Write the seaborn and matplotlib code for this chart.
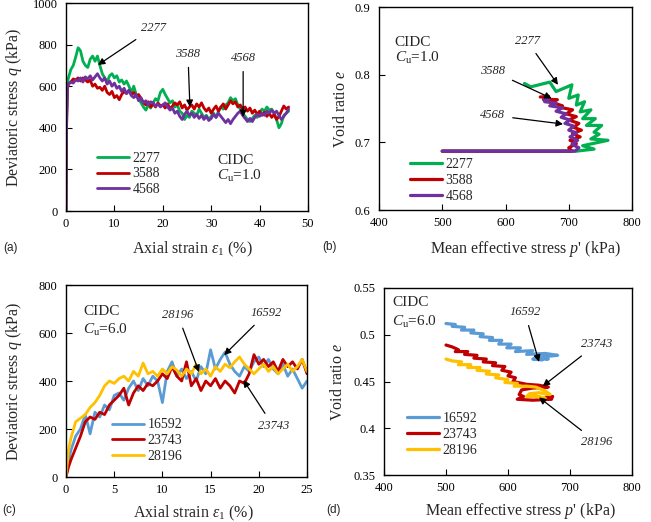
import numpy as np
import pandas as pd
import matplotlib
matplotlib.use("Agg")
from matplotlib import pyplot as plt
import seaborn as sns

# ---------------- data ---------------- #

# (a) CIDC, Cu = 1.0 : deviatoric stress vs axial strain
strain_a = [0, 0.1, 0.3, 0.5, 1.0, 1.5, 2.0, 2.5, 3.0, 3.5, 4.0, 4.5, 5.0, 5.5, 6.0, 6.5,
            7.0, 7.5, 8.0, 8.5, 9.0, 9.5, 10.0, 10.5, 11.0, 11.5, 12.0, 12.5, 13.0, 13.5,
            14.0, 14.5, 15.0, 15.5, 16.0, 16.5, 17.0, 17.5, 18.0, 18.5, 19.0, 19.5, 20.0,
            20.5, 21.0, 21.5, 22.0, 22.5, 23.0, 23.5, 24.0, 24.5, 25.0, 25.5, 26.0, 26.5,
            27.0, 27.5, 28.0, 28.5, 29.0, 29.5, 30.0, 30.5, 31.0, 31.5, 32.0, 32.5, 33.0,
            33.5, 34.0, 34.5, 35.0, 35.5, 36.0, 36.5, 37.0, 37.5, 38.0, 38.5, 39.0, 39.5,
            40.0, 40.5, 41.0, 41.5, 42.0, 42.5, 43.0, 43.5, 44.0, 44.5, 45.0, 45.5, 46.0]
q_2277 = [0, 450, 610, 640, 680, 700, 740, 785, 770, 720, 700, 690, 730, 745, 720, 745,
          700, 660, 640, 620, 650, 660, 640, 650, 620, 630, 610, 625, 600, 570,
          600, 560, 540, 520, 500, 485, 510, 495, 520, 540, 530, 570, 585,
          560, 540, 520, 530, 500, 510, 480, 470, 440, 460, 450, 480, 470,
          460, 490, 470, 450, 460, 440, 455, 470, 450, 480, 500, 490, 510,
          520, 545, 530, 540, 510, 490, 470, 455, 440, 430, 445, 460, 450,
          470, 490, 480, 500, 485, 490, 470, 440, 400, 420, 460, 470, 480]
q_3588 = [0, 400, 590, 610, 620, 635, 630, 640, 625, 640, 630, 620, 630, 600, 610, 590,
          595, 580, 600, 570, 560, 575, 545, 555, 535, 560, 575, 565, 580, 560,
          570, 550, 560, 540, 520, 510, 525, 500, 515, 500, 520, 505, 510,
          495, 515, 490, 505, 520, 510, 525, 495, 510, 485, 500, 510, 490,
          515, 500, 520, 495, 480, 495, 470, 490, 505, 480, 500, 515, 490,
          510, 530, 515, 525, 500, 510, 490, 500, 480, 495, 470, 485, 465,
          480, 460, 475, 455, 470, 450, 465, 440, 455, 480, 505, 490, 500]
q_4568 = [0, 380, 590, 610, 620, 615, 630, 625, 640, 620, 645, 635, 650, 630, 645, 660,
          640, 625, 640, 610, 625, 600, 615, 590, 600, 575, 590, 565, 580, 555,
          545, 560, 530, 545, 520, 530, 510, 525, 520, 505, 515, 500, 510,
          520, 500, 485, 495, 470, 480, 455, 440, 465, 480, 460, 470, 450,
          465, 445, 460, 440, 455, 435, 445, 465, 450, 470, 455, 440, 425,
          440, 420, 440, 455, 470, 480, 460, 445, 430, 445, 430, 450, 465,
          455, 470, 460, 480, 470, 485, 470, 480, 460, 440, 455, 470, 490]

# (b) CIDC, Cu = 1.0 : void ratio vs mean effective stress (paths)
p_2277 = [500, 712, 740, 722, 762, 735, 748, 740, 752, 728, 742, 722, 735, 718, 725,
          712, 715, 700, 705, 680, 670, 640, 630]
e_2277 = [0.687, 0.687, 0.690, 0.695, 0.703, 0.705, 0.712, 0.715, 0.725, 0.725, 0.735,
          0.735, 0.748, 0.745, 0.760, 0.755, 0.770, 0.765, 0.785, 0.775, 0.789, 0.782, 0.787]
p_3588 = [500, 705, 700, 712, 702, 718, 706, 720, 708, 716, 700, 712, 696, 706, 685,
          690, 670, 682, 660, 668, 655]
e_3588 = [0.687, 0.687, 0.692, 0.698, 0.703, 0.708, 0.713, 0.718, 0.722, 0.728, 0.733,
          0.738, 0.742, 0.748, 0.752, 0.754, 0.760, 0.763, 0.764, 0.768, 0.767]
p_4568 = [500, 710, 716, 705, 714, 702, 712, 700, 708, 694, 702, 688, 696, 680, 690,
          670, 680, 662, 668, 660]
e_4568 = [0.687, 0.687, 0.692, 0.697, 0.703, 0.708, 0.714, 0.718, 0.724, 0.728, 0.733,
          0.737, 0.742, 0.746, 0.751, 0.754, 0.758, 0.760, 0.764, 0.763]

# (c) CIDC, Cu = 6.0 : deviatoric stress vs axial strain
strain_c = [0, 0.25, 0.5, 1.0, 1.5, 2.0, 2.5, 3.0, 3.5, 4.0, 4.5, 5.0, 5.5, 6.0, 6.5,
            7.0, 7.5, 8.0, 8.5, 9.0, 9.5, 10.0, 10.5, 11.0, 11.5, 12.0, 12.5, 13.0,
            13.5, 14.0, 14.5, 15.0, 15.5, 16.0, 16.5, 17.0, 17.5, 18.0, 18.5, 19.0,
            19.5, 20.0, 20.5, 21.0, 21.5, 22.0, 22.5, 23.0, 23.5, 24.0, 24.5, 25.0]
q_16592 = [0, 60, 110, 170, 200, 260, 180, 270, 250, 300, 280, 340, 350, 320, 370,
           400, 360, 410, 380, 420, 400, 310, 440, 480, 420, 450, 410, 440,
           400, 460, 430, 530, 450, 490, 520, 470, 440, 420, 460, 440,
           480, 500, 460, 490, 450, 430, 470, 420, 450, 410, 370, 400]
q_23743 = [0, 40, 70, 120, 170, 230, 250, 240, 270, 260, 300, 320, 340, 370, 300,
           350, 380, 360, 390, 380, 400, 430, 410, 460, 420, 400, 480, 380,
           410, 360, 400, 380, 410, 370, 400, 380, 350, 400, 390, 430,
           510, 470, 490, 460, 480, 440, 490, 460, 480, 450, 490, 430]
q_28196 = [0, 110, 160, 230, 245, 260, 290, 310, 340, 380, 400, 390, 410, 420, 400,
           440, 420, 475, 430, 440, 420, 450, 430, 460, 445, 420, 450, 430,
           470, 430, 450, 420, 460, 440, 470, 455, 480, 500, 470, 450,
           430, 450, 470, 440, 460, 430, 450, 470, 440, 460, 490, 440]

# (d) CIDC, Cu = 6.0 : void ratio vs mean effective stress (paths)
p_16592 = [500, 515, 510, 530, 525, 545, 540, 560, 555, 575, 570, 590, 585, 605, 598,
           620, 612, 640, 630, 660, 680, 650, 665, 640, 655]
e_16592 = [0.512, 0.511, 0.509, 0.508, 0.505, 0.505, 0.502, 0.501, 0.498, 0.497, 0.494,
           0.494, 0.490, 0.490, 0.486, 0.486, 0.482, 0.483, 0.479, 0.480, 0.478, 0.476,
           0.474, 0.474, 0.473]
p_23743 = [500, 510, 520, 515, 535, 530, 550, 545, 565, 560, 580, 575, 595, 590, 605,
           600, 612, 608, 630, 650, 665, 640, 622, 618, 625, 615, 640, 670, 672, 660]
e_23743 = [0.489, 0.487, 0.484, 0.482, 0.482, 0.479, 0.478, 0.475, 0.474, 0.471, 0.470,
           0.467, 0.466, 0.462, 0.460, 0.456, 0.454, 0.450, 0.447, 0.446, 0.444, 0.443,
           0.441, 0.436, 0.434, 0.431, 0.430, 0.431, 0.434, 0.433]
p_28196 = [500, 510, 525, 520, 540, 535, 555, 550, 570, 565, 585, 580, 600, 595, 615,
           610, 630, 645, 660, 668, 650, 635, 630, 648, 660, 640]
e_28196 = [0.474, 0.472, 0.471, 0.468, 0.468, 0.465, 0.465, 0.462, 0.461, 0.458, 0.457,
           0.454, 0.452, 0.449, 0.448, 0.445, 0.445, 0.444, 0.440, 0.436, 0.438, 0.437,
           0.434, 0.434, 0.432, 0.435]

# ---------------- style ---------------- #

GREEN, RED, PURPLE = "#00B050", "#C00000", "#7030A0"
BLUE, YELLOW = "#5B9BD5", "#FFC000"

sns.set_style("ticks")
plt.rcParams["font.family"] = ["Liberation Serif", "DejaVu Serif"]
plt.rcParams["mathtext.fontset"] = "custom"
plt.rcParams["mathtext.rm"] = "Liberation Serif"
plt.rcParams["mathtext.it"] = "Liberation Serif:italic"
plt.rcParams["axes.linewidth"] = 1.0
plt.rcParams["axes.edgecolor"] = "black"

W, H = 651, 522
LW = 2.0
FS_LAB = 11.5
FS_TICK = 9
FS_NOTE = 9
FS_LEG = 10
FS_TXT = 11


def rect(left, top, right, bottom):
    return [left / W, 1 - bottom / H, (right - left) / W, (bottom - top) / H]


def style_axes(ax):
    for s in ax.spines.values():
        s.set_visible(True)
        s.set_color("black")
        s.set_linewidth(1.0)
    ax.tick_params(direction="in", length=4, width=0.8, labelsize=FS_TICK,
                   top=False, right=False, colors="black")
    ax.tick_params(axis="x", pad=5)
    ax.tick_params(axis="y", pad=6)


def draw(ax, x, y, color, label, lw=LW):
    df = pd.DataFrame({"x": x, "y": y})
    sns.lineplot(data=df, x="x", y="y", ax=ax, color=color, lw=lw,
                 sort=False, estimator=None, label=label)


def add_legend(ax, anchor):
    ax.legend(loc="upper left", bbox_to_anchor=anchor, frameon=False, fontsize=FS_LEG,
              handlelength=2.3, handletextpad=0.25, labelspacing=0.2,
              borderpad=0, borderaxespad=0)


def note(ax, text, tip, pos):
    ax.annotate(text, xy=tip, xytext=pos, fontsize=FS_NOTE, style="italic",
                ha="center", va="center",
                arrowprops=dict(arrowstyle="-|>", color="black", lw=0.9,
                                mutation_scale=10, shrinkA=3, shrinkB=0))


fig = plt.figure(figsize=(W / 100, H / 100), dpi=100)

ax_a = fig.add_axes(rect(66, 3, 308, 211))
ax_b = fig.add_axes(rect(379, 7, 632, 210))
ax_c = fig.add_axes(rect(66, 285, 307, 477))
ax_d = fig.add_axes(rect(384, 288, 632, 475))

# ---- (a) ----
draw(ax_a, strain_a, q_2277, GREEN, "2277")
draw(ax_a, strain_a, q_3588, RED, "3588")
draw(ax_a, strain_a, q_4568, PURPLE, "4568")
ax_a.set_xlim(0, 50)
ax_a.set_ylim(0, 1000)
ax_a.set_xticks([0, 10, 20, 30, 40, 50])
ax_a.set_yticks([0, 200, 400, 600, 800, 1000])
add_legend(ax_a, (0.128, 0.285))
ax_a.text(31.2, 245, "CIDC", fontsize=FS_TXT, va="center")
ax_a.text(31.2, 168, "$C_\\mathrm{u}$=1.0", fontsize=FS_TXT, va="center")
note(ax_a, "2277", (6.6, 702), (18.0, 880))
note(ax_a, "3588", (25.6, 500), (25.2, 755))
note(ax_a, "4568", (36.6, 452), (36.6, 735))
ax_a.set_xlabel("Axial strain $\\varepsilon_1$ (%)", fontsize=FS_LAB)
ax_a.set_ylabel("Deviatoric stress $q$ (kPa)", fontsize=FS_LAB)

# ---- (b) ----
draw(ax_b, p_2277, e_2277, GREEN, "2277", 2.3)
draw(ax_b, p_3588, e_3588, RED, "3588", 2.3)
draw(ax_b, p_4568, e_4568, PURPLE, "4568", 2.3)
ax_b.set_xlim(400, 800)
ax_b.set_ylim(0.6, 0.9)
ax_b.set_xticks([400, 500, 600, 700, 800])
ax_b.set_yticks([0.6, 0.7, 0.8, 0.9])
ax_b.set_yticklabels(["0.6", "0.7", "0.8", "0.9"])
add_legend(ax_b, (0.1225, 0.255))
ax_b.text(425, 0.848, "CIDC", fontsize=FS_TXT, va="center")
ax_b.text(425, 0.825, "$C_\\mathrm{u}$=1.0", fontsize=FS_TXT, va="center")
note(ax_b, "2277", (683, 0.785), (634, 0.850))
note(ax_b, "3588", (673, 0.765), (580, 0.805))
note(ax_b, "4568", (691, 0.727), (580, 0.740))
ax_b.set_xlabel("Mean effective stress $p$' (kPa)", fontsize=FS_LAB)
ax_b.set_ylabel("Void ratio $e$", fontsize=FS_LAB)

# ---- (c) ----
draw(ax_c, strain_c, q_16592, BLUE, "16592")
draw(ax_c, strain_c, q_23743, RED, "23743")
draw(ax_c, strain_c, q_28196, YELLOW, "28196")
ax_c.set_xlim(0, 25)
ax_c.set_ylim(0, 800)
ax_c.set_xticks([0, 5, 10, 15, 20, 25])
ax_c.set_yticks([0, 200, 400, 600, 800])
add_legend(ax_c, (0.191, 0.305))
ax_c.text(1.8, 688, "CIDC", fontsize=FS_TXT, va="center")
ax_c.text(1.8, 612, "$C_\\mathrm{u}$=6.0", fontsize=FS_TXT, va="center")
note(ax_c, "28196", (13.8, 437), (11.6, 675))
note(ax_c, "16592", (16.4, 508), (20.8, 683))
note(ax_c, "23743", (18.4, 404), (21.5, 212))
ax_c.set_xlabel("Axial strain $\\varepsilon_1$ (%)", fontsize=FS_LAB)
ax_c.set_ylabel("Deviatoric stress $q$ (kPa)", fontsize=FS_LAB)

# ---- (d) ----
draw(ax_d, p_16592, e_16592, BLUE, "16592", 2.3)
draw(ax_d, p_23743, e_23743, RED, "23743", 2.3)
draw(ax_d, p_28196, e_28196, YELLOW, "28196", 2.3)
ax_d.set_xlim(400, 800)
ax_d.set_ylim(0.35, 0.55)
ax_d.set_xticks([400, 500, 600, 700, 800])
ax_d.set_yticks([0.35, 0.4, 0.45, 0.5, 0.55])
ax_d.set_yticklabels(["0.35", "0.4", "0.45", "0.5", "0.55"])
add_legend(ax_d, (0.093, 0.335))
ax_d.text(413, 0.534, "CIDC", fontsize=FS_TXT, va="center")
ax_d.text(413, 0.514, "$C_\\mathrm{u}$=6.0", fontsize=FS_TXT, va="center")
note(ax_d, "16592", (650, 0.471), (627, 0.524))
note(ax_d, "23743", (656, 0.445), (743, 0.490))
note(ax_d, "28196", (650, 0.433), (743, 0.385))
ax_d.set_xlabel("Mean effective stress $p$' (kPa)", fontsize=FS_LAB)
ax_d.set_ylabel("Void ratio $e$", fontsize=FS_LAB)

for ax in (ax_a, ax_b, ax_c, ax_d):
    style_axes(ax)

ax_a.xaxis.set_label_coords(0.52, -0.139)
ax_a.yaxis.set_label_coords(-0.172, 0.5)
ax_b.xaxis.set_label_coords(0.58, -0.143)
ax_b.yaxis.set_label_coords(-0.12, 0.5)
ax_c.xaxis.set_label_coords(0.527, -0.141)
ax_c.yaxis.set_label_coords(-0.173, 0.5)
ax_d.xaxis.set_label_coords(0.55, -0.14)
ax_d.yaxis.set_label_coords(-0.153, 0.5)

for lab, x, y in (("(a)", 3, 248), ("(b)", 322, 247), ("(c)", 2, 510), ("(d)", 326, 510)):
    fig.text(x / W, 1 - y / H, lab, fontsize=8.5, family="Liberation Sans", va="center")

fig.savefig("out.png", dpi=100)
